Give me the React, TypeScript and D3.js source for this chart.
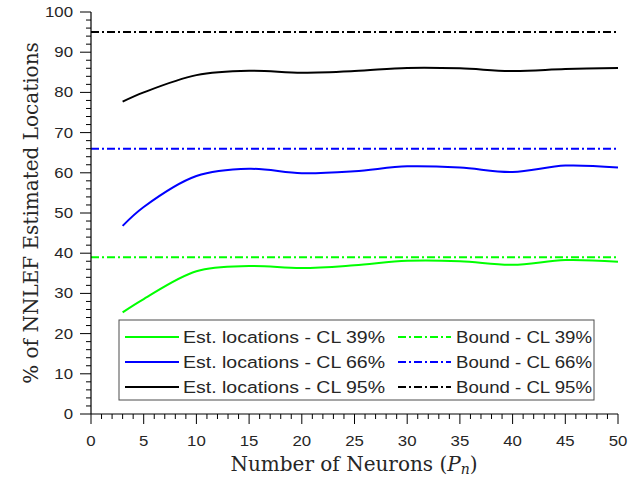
import React from "react";
import * as d3 from "d3";

const neurons = [3, 5, 10, 15, 20, 25, 30, 35, 40, 45, 50];
const est39 = [25.3, 28.6, 35.5, 36.8, 36.3, 37.0, 38.1, 38.0, 37.1, 38.3, 37.9];
const est66 = [46.8, 51.5, 59.2, 61.0, 59.9, 60.4, 61.6, 61.3, 60.2, 61.8, 61.3];
const est95 = [77.7, 80.0, 84.3, 85.4, 84.9, 85.3, 86.1, 86.0, 85.3, 85.8, 86.1];
const bounds = [39, 66, 95];
const colors = ["#00ff00", "#0000ff", "#000000"];
const estLabels = ["Est. locations - CL 39%", "Est. locations - CL 66%", "Est. locations - CL 95%"];
const boundLabels = ["Bound - CL 39%", "Bound - CL 66%", "Bound - CL 95%"];
const xTicks = [0, 5, 10, 15, 20, 25, 30, 35, 40, 45, 50];
const yTicks = [0, 10, 20, 30, 40, 50, 60, 70, 80, 90, 100];

export default function App() {
  const W = 636, H = 485;
  const x = d3.scaleLinear().domain([0, 50]).range([91, 618]);
  const y = d3.scaleLinear().domain([0, 100]).range([414, 12]);
  const series = [est39, est66, est95];
  const line = d3
    .line<number>()
    .x((_, i) => x(neurons[i]))
    .y((d) => y(d))
    .curve(d3.curveCatmullRom.alpha(0.5));
  const xMinor = d3.range(0, 51, 1);
  const yMinor = d3.range(0, 101, 2);
  const tickFont = "'Liberation Sans', Arial, sans-serif";
  const serif = "'DejaVu Serif', 'Liberation Serif', serif";
  const dash = "8,3,2,3";
  const rowsY = [337, 362, 387];
  const sx = 1.2;
  return (
    <svg width={W} height={H} style={{ position: "absolute", left: 0, top: 0 }}>
      <rect width={W} height={H} fill="#fff" />
      {bounds.map((b, i) => (
        <line key={"b" + i} x1={x(0)} x2={x(50)} y1={y(b)} y2={y(b)} stroke={colors[i]} strokeWidth={2} strokeDasharray={dash} />
      ))}
      {series.map((s, i) => (
        <path key={"s" + i} d={line(s) || ""} fill="none" stroke={colors[i]} strokeWidth={2} />
      ))}
      <line x1={x(0)} x2={x(50)} y1={y(0)} y2={y(0)} stroke="#000" strokeWidth={1.2} />
      <line x1={x(0)} x2={x(0)} y1={y(0)} y2={y(100)} stroke="#000" strokeWidth={1.2} />
      {xMinor.map((t) => (
        <line key={"xm" + t} x1={x(t)} x2={x(t)} y1={y(0)} y2={y(0) + (t % 5 === 0 ? 10 : 5)} stroke="#000" strokeWidth={1} />
      ))}
      {yMinor.map((t) => (
        <line key={"ym" + t} x1={x(0)} x2={x(0) - (t % 10 === 0 ? 11 : 5)} y1={y(t)} y2={y(t)} stroke="#000" strokeWidth={1} />
      ))}
      {xTicks.map((t) => (
        <text key={"xt" + t} transform={`translate(${x(t)},446) scale(${sx},1)`} textAnchor="middle" fontFamily={tickFont} fontSize={14} fill="#262626">{t}</text>
      ))}
      {yTicks.map((t) => (
        <text key={"yt" + t} transform={`translate(73,${y(t) + 5}) scale(${sx},1)`} textAnchor="end" fontFamily={tickFont} fontSize={14} fill="#262626">{t}</text>
      ))}
      <text x={354} y={471} textAnchor="middle" fontFamily={serif} fontSize={20} fill="#262626">
        Number of Neurons (<tspan fontStyle="italic">P</tspan><tspan fontStyle="italic" fontSize={14} dy={3}>n</tspan><tspan dy={-3}>)</tspan>
      </text>
      <text transform={`translate(38,${213}) rotate(-90)`} textAnchor="middle" fontFamily={serif} fontSize={20} fill="#262626">
        % of NNLEF Estimated Locations
      </text>
      <rect x={119} y={320} width={475} height={80} fill="#fff" stroke="#4d4d4d" strokeWidth={1} />
      {rowsY.map((ry, i) => (
        <g key={"lg" + i}>
          <line x1={125} x2={179} y1={ry} y2={ry} stroke={colors[i]} strokeWidth={2} />
          <text x={183} y={ry + 6} textLength={202} lengthAdjust="spacingAndGlyphs" fontFamily={tickFont} fontSize={16.3} fill="#262626">{estLabels[i]}</text>
          <line x1={398} x2={451} y1={ry} y2={ry} stroke={colors[i]} strokeWidth={2} strokeDasharray={dash} />
          <text x={456} y={ry + 6} textLength={136} lengthAdjust="spacingAndGlyphs" fontFamily={tickFont} fontSize={16.3} fill="#262626">{boundLabels[i]}</text>
        </g>
      ))}
    </svg>
  );
}
